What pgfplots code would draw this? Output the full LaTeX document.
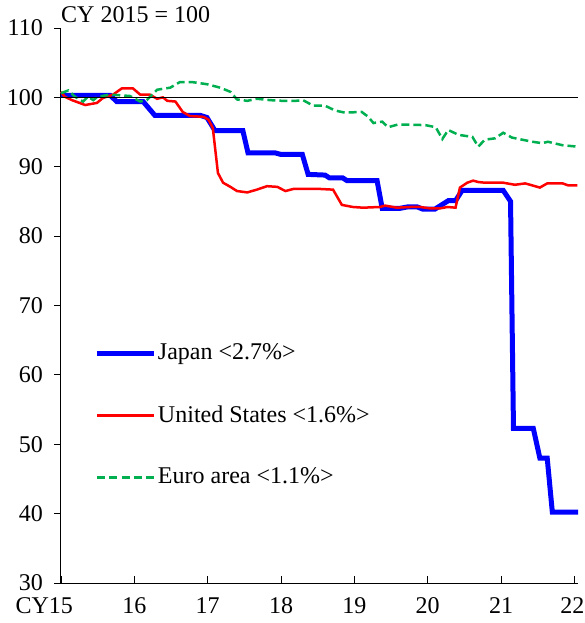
\documentclass[border=0pt]{standalone}
\usepackage{fontspec}
\setmainfont{Liberation Serif}
\usepackage{pgfplots}
\pgfplotsset{compat=1.18}

\definecolor{jpblue}{RGB}{0,0,255}
\definecolor{usred}{RGB}{255,0,0}
\definecolor{eugreen}{RGB}{0,176,80}

\begin{document}
\fontsize{24}{28}\selectfont
\begin{tikzpicture}
\useasboundingbox (-61pt,-40pt) rectangle (523pt,583pt);
\begin{axis}[
    at={(0pt,0pt)}, anchor=south west,
    scale only axis,
    width=517pt, height=555pt,
    xmin=2015, xmax=2022.05,
    ymin=30, ymax=110,
    clip=false,
    axis x line*=bottom,
    axis y line*=left,
    axis line style={black, line width=1pt},
    xtick={2015,2016,2017,2018,2019,2020,2021,2022},
    xticklabels={\llap{CY}15,16,17,18,19,20,21,\kern-4pt22},
    ytick={30,40,50,60,70,80,90,100,110},
    yticklabels={30,40,50,60,70,80,90,100,110},
    xtick align=inside,
    ytick align=outside,
    major tick length=7pt,
    tick style={black, line width=0.8pt},
    yticklabel style={xshift=-3pt},
    xticklabel style={yshift=-6pt},
    legend cell align=left,
    legend image code/.code={\draw[#1] (0pt,0pt) -- (56pt,0pt);},
    legend style={at={(rel axis cs:0,1)}, anchor=north west,
        xshift=34pt, yshift=-316pt,
        draw=none, fill=none, inner sep=0pt, outer sep=0pt,
        row sep=42pt, column sep=2pt,
        nodes={inner sep=0pt}},
]
% Japan
\addplot[jpblue, line width=5pt] coordinates {
    (2015.00,100.3) (2015.67,100.3) (2015.76,99.4) (2016.12,99.4)
    (2016.28,97.4) (2016.90,97.4) (2016.99,97.1) (2017.10,95.2)
    (2017.48,95.2) (2017.55,92.0) (2017.92,92.0) (2017.99,91.8)
    (2018.29,91.8) (2018.37,88.9) (2018.60,88.8) (2018.66,88.4)
    (2018.84,88.4) (2018.90,88.0) (2019.31,88.0) (2019.38,84.0)
    (2019.62,84.0) (2019.72,84.2) (2019.86,84.2) (2019.93,83.9)
    (2020.10,83.9) (2020.28,85.1) (2020.38,85.1) (2020.47,86.6)
    (2021.03,86.6) (2021.13,85.0) (2021.17,52.3) (2021.44,52.3)
    (2021.53,48.0) (2021.63,48.0) (2021.70,40.2) (2022.05,40.2)
};
\addlegendentry{Japan <2.7\%>}
% United States
\addplot[usred, line width=2.5pt] coordinates {
    (2015.00,100.8) (2015.05,100.1) (2015.15,99.6) (2015.33,98.9)
    (2015.49,99.2) (2015.57,99.9) (2015.71,100.4) (2015.83,101.3)
    (2015.98,101.3) (2016.08,100.4) (2016.21,100.4) (2016.31,99.8)
    (2016.39,100.0) (2016.45,99.5) (2016.56,99.4) (2016.66,97.9)
    (2016.76,97.3) (2016.94,97.2) (2017.01,96.8) (2017.07,95.6)
    (2017.14,89.1) (2017.21,87.7) (2017.31,87.1) (2017.40,86.5)
    (2017.54,86.3) (2017.67,86.7) (2017.81,87.2) (2017.95,87.1)
    (2018.06,86.5) (2018.17,86.8) (2018.53,86.8) (2018.71,86.7)
    (2018.83,84.5) (2018.98,84.2) (2019.12,84.1) (2019.35,84.2)
    (2019.42,84.4) (2019.58,84.1) (2019.76,84.2) (2019.90,84.2)
    (2020.03,84.0) (2020.17,84.0) (2020.27,84.2) (2020.38,84.1)
    (2020.44,87.0) (2020.54,87.7) (2020.62,88.0) (2020.69,87.8)
    (2020.78,87.7) (2021.03,87.7) (2021.19,87.4) (2021.33,87.6)
    (2021.43,87.3) (2021.53,87.0) (2021.63,87.6) (2021.84,87.6)
    (2021.92,87.3) (2022.04,87.3)
};
\addlegendentry{United States <1.6\%>}
% Euro area
\addplot[eugreen, line width=2.5pt, dash pattern=on 8pt off 4pt] coordinates {
    (2015.00,100.6) (2015.10,101.0) (2015.19,100.1) (2015.30,99.4)
    (2015.37,100.1) (2015.44,99.6) (2015.50,100.1) (2015.67,100.4)
    (2015.94,100.2) (2016.08,99.4) (2016.17,99.6) (2016.31,101.1)
    (2016.49,101.4) (2016.62,102.2) (2016.79,102.2) (2016.99,101.9)
    (2017.17,101.4) (2017.31,100.8) (2017.40,99.7) (2017.54,99.5)
    (2017.67,99.8) (2017.85,99.6) (2018.02,99.5) (2018.20,99.5)
    (2018.30,99.6) (2018.44,98.8) (2018.60,98.8) (2018.74,98.1)
    (2018.87,97.8) (2019.10,97.9) (2019.19,97.2) (2019.26,96.3)
    (2019.38,96.5) (2019.46,95.7) (2019.60,96.1) (2019.97,96.0)
    (2020.11,95.7) (2020.20,94.0) (2020.28,95.3) (2020.42,94.6)
    (2020.61,94.3) (2020.69,92.9) (2020.78,93.9) (2020.92,94.1)
    (2021.03,94.9) (2021.15,94.2) (2021.43,93.6) (2021.56,93.4)
    (2021.64,93.6) (2021.84,93.1) (2022.04,92.9)
};
\addlegendentry{Euro area <1.1\%>}
% reference line at 100
\addplot[black, line width=1.3pt, forget plot] coordinates {(2015,100) (2022.05,100)};
\node[anchor=base west, inner sep=0pt] at (rel axis cs:0,1) [yshift=5pt] {CY 2015 = 100};
\end{axis}
\end{tikzpicture}
\end{document}
